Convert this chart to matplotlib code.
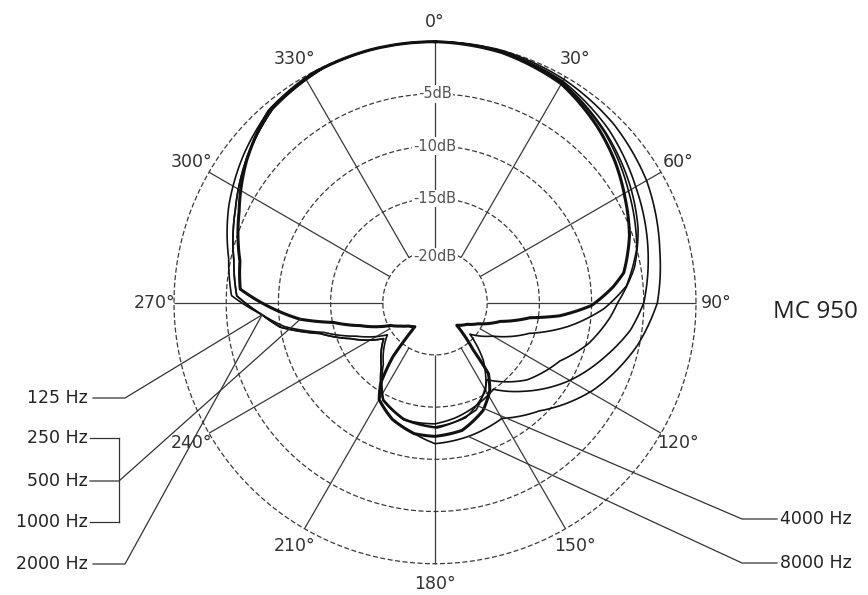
import numpy as np
import matplotlib
matplotlib.use("Agg")
import matplotlib.pyplot as plt
from matplotlib.lines import Line2D
from matplotlib.transforms import IdentityTransform

# polar response, angle in degrees clockwise from 0 (front), level in dB re. on-axis
mid_ang = [0, 15, 30, 43, 52, 61, 71, 81, 85, 91, 96, 99, 106, 116, 124, 136, 141, 143,
           148, 156, 168, 180, 189, 200, 210, 214, 218, 220, 229, 236, 243, 253, 259, 263,
           269, 274, 282, 295, 307, 319, 332, 346, 360]
mid_db = [0, -0.2, -0.8, -2.1, -3.1, -4.2, -5.3, -6.7, -7.9, -10.0, -13.0, -15.8, -18.5,
          -20.4, -21.3, -22.0, -19.2, -16.5, -15.1, -13.7, -12.5, -12.2, -12.3, -13.1, -14.3,
          -15.7, -18.5, -22.0, -21.6, -21.0, -20.2, -17.5, -15.1, -12.0, -8.9, -6.3, -5.9,
          -4.3, -2.4, -0.7, -0.1, 0, 0]

hz125_ang = [0, 15, 30, 45, 60, 70, 80, 90, 95, 105, 115, 130, 146, 159, 179, 195, 208, 220,
             235, 247, 255, 261, 266, 272, 282, 295, 308, 320, 335, 348, 360]
hz125_db = [0, -0.1, -0.6, -1.9, -3.3, -4.3, -5.6, -7.5, -8.2, -9.8, -11.8, -13.5, -16.1,
            -14.0, -13.0, -13.4, -14.4, -17.0, -19.0, -16.2, -13.6, -10.0, -8.4, -6.0, -5.3,
            -3.9, -2.2, -0.8, -0.1, 0, 0]

hz2000_ang = [0, 15, 30, 45, 60, 75, 85, 92, 100, 108, 120, 132, 140, 150, 165, 180, 195, 208,
              220, 236, 247, 255, 261, 266, 272, 282, 295, 308, 320, 335, 348, 360]
hz2000_db = [0, -0.1, -0.7, -2.0, -3.6, -5.0, -6.6, -8.8, -12.0, -15.5, -18.6, -20.5, -17.8,
             -15.3, -13.6, -13.1, -13.5, -14.5, -17.3, -19.5, -16.8, -14.0, -10.4, -8.4, -5.5,
             -4.8, -3.2, -1.8, -0.6, -0.1, 0, 0]

hz4000_ang = [0, 15, 30, 45, 60, 75, 90, 98, 107, 120, 135, 146, 158, 170, 180, 195, 208, 220,
              235, 247, 255, 261, 266, 272, 282, 295, 308, 320, 335, 348, 360]
hz4000_db = [0, -0.1, -0.5, -1.5, -2.8, -3.9, -5.0, -6.1, -7.8, -10.1, -13.0, -15.0, -14.4,
             -13.8, -13.4, -13.4, -14.4, -17.0, -19.0, -16.2, -13.6, -10.0, -8.4, -6.0, -5.3,
             -3.9, -2.2, -0.8, -0.1, 0, 0]

hz8000_ang = [0, 15, 30, 45, 60, 77, 90, 102, 119, 136, 150, 166, 180, 190, 200, 210, 214, 218,
              220, 229, 236, 243, 253, 259, 263, 269, 274, 282, 295, 307, 319, 332, 346, 360]
hz8000_db = [0, 0, -0.3, -0.8, -1.6, -2.9, -3.7, -5.2, -7.7, -10.6, -12.2, -11.8, -11.5, -12.4,
             -13.1, -14.3, -15.7, -18.5, -22.0, -21.6, -21.0, -20.2, -17.5, -15.1, -12.0, -8.9,
             -6.3, -5.9, -4.3, -2.4, -0.7, -0.1, 0, 0]

grid_db = [-20, -15, -10, -5, 0]
db_labels = ["-20dB", "-15dB", "-10dB", "-5dB"]
spokes = list(range(0, 360, 30))

W, H = 868, 595
ink = "#111111"
grid_col = "#3a3a3a"

plt.rcParams["font.family"] = ["DejaVu Sans"]
fig = plt.figure(figsize=(W / 100, H / 100), dpi=100)
ax = fig.add_axes([174 / W, 31.3 / H, 522 / W, 522 / H], projection="polar")
ax.set_theta_zero_location("N")
ax.set_theta_direction(-1)
ax.set_ylim(-25, 0)
ax.set_xticks([])
ax.set_yticks([])
ax.grid(False)
ax.spines["polar"].set_visible(False)

# dashed level circles
th = np.linspace(0, 2 * np.pi, 400)
for g in grid_db:
    ax.plot(th, np.full_like(th, g), color=grid_col, lw=0.9, ls=(0, (4, 2)),
            clip_on=False, zorder=1)

# spokes from the -20 dB circle outwards
for a in spokes:
    ax.plot([np.radians(a)] * 2, [-20, 0], color=grid_col, lw=0.9,
            solid_capstyle="butt", clip_on=False, zorder=1)
    ax.text(np.radians(a), 1.9, f"{a}°", ha="center", va="center",
            fontsize=12.5, color="#333333")

for g, lab in zip(grid_db, db_labels):
    ax.text(0, g - (0.6 if g == -20 else 0), lab, ha="center", va="center",
            fontsize=10.5, color="#555555",
            bbox=dict(fc="white", ec="none", pad=0.8), zorder=2)


def polar_line(ang, db, lw, z):
    ln, = ax.plot(np.radians(ang), db, color=ink, lw=lw, clip_on=False, zorder=z,
                  solid_joinstyle="round")
    # let the polar projection draw each step as a spiral arc instead of a chord
    ln.get_path()._interpolation_steps = 24
    return ln


# response curves
for ang, db in [(hz125_ang, hz125_db), (hz2000_ang, hz2000_db),
                (hz4000_ang, hz4000_db), (hz8000_ang, hz8000_db)]:
    polar_line(ang, db, 1.2, 4)
polar_line(mid_ang, mid_db, 2.2, 5)


def to_disp(ang, db, at):
    i = ang.index(at)
    return ax.transData.transform((np.radians(ang[i]), db[i]))


def seg(xs, ys):
    # xs, ys in image pixels (y from top)
    fig.add_artist(Line2D(xs, [H - y for y in ys], transform=IdentityTransform(),
                          color="#333333", lw=0.9))


def label(x, y, s, ha):
    fig.text(x / W, 1 - y / H, s, ha=ha, va="center", fontsize=12.5, color="#222222")


# left side labels and leaders
label(88, 398, "125 Hz", "right")
label(88, 438, "250 Hz", "right")
label(88, 481, "500 Hz", "right")
label(88, 522, "1000 Hz", "right")
label(88, 564, "2000 Hz", "right")

p = to_disp(hz125_ang, hz125_db, 266)
seg([93, 125, p[0]], [398, 398, H - p[1]])
p = to_disp(hz2000_ang, hz2000_db, 266)
seg([93, 125, p[0]], [564, 564, H - p[1]])
p = to_disp(mid_ang, mid_db, 263)
seg([90, 119], [438, 438])
seg([90, 119], [522, 522])
seg([119, 119], [438, 522])
seg([90, 119, p[0]], [481, 481, H - p[1]])

# right side labels and leaders
label(780, 519, "4000 Hz", "left")
label(780, 563, "8000 Hz", "left")
p = to_disp(hz4000_ang, hz4000_db, 158)
seg([777, 742, p[0]], [519, 519, H - p[1]])
p = to_disp(hz8000_ang, hz8000_db, 166)
seg([777, 742, p[0]], [563, 563, H - p[1]])

fig.text(773 / W, 1 - 312 / H, "MC 950", ha="left", va="center", fontsize=17.5,
         family="Open Sans", color="#222222")

fig.savefig("out.png", dpi=100, facecolor="white")
